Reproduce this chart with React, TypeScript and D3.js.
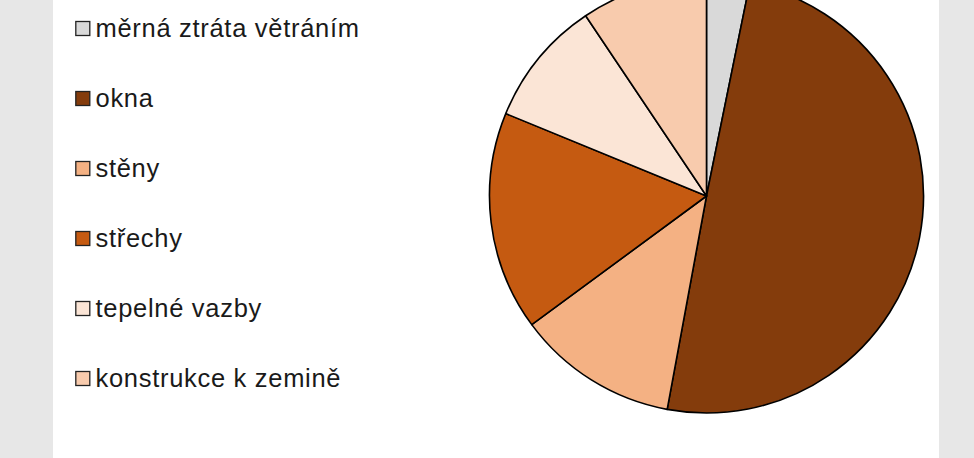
import React from "react";
import * as d3 from "d3";

const categories = [
  "měrná ztráta větráním",
  "okna",
  "stěny",
  "střechy",
  "tepelné vazby",
  "konstrukce k zemině",
];
const values = [3.2, 49.7, 12.0, 16.3, 9.4, 9.4];
const colors = ["#d9d9d9", "#843c0c", "#f4b183", "#c55a11", "#fbe5d6", "#f8cbad"];

const W = 974;
const H = 458;

export default function App() {
  const cx = 706.5;
  const cy = 196;
  const r = 217;
  const pie = d3.pie<number>().sort(null).value((d) => d)(values);
  const arc = d3.arc<d3.PieArcDatum<number>>().innerRadius(0).outerRadius(r);
  const legendY = d3.scalePoint<number>().domain(d3.range(categories.length)).range([28.5, 378.5]);

  return (
    <div style={{ position: "absolute", left: 0, top: 0 }}>
      <svg width={W} height={H} style={{ display: "block" }}>
        <rect x={0} y={0} width={W} height={H} fill="#e7e7e7" />
        <rect x={53} y={0} width={886} height={H} fill="#ffffff" />
        <g transform={`translate(${cx},${cy})`}>
          {pie.map((d, i) => (
            <path
              key={i}
              d={arc(d) || ""}
              fill={colors[i]}
              stroke="#000"
              strokeWidth={1.6}
              strokeLinejoin="round"
            />
          ))}
        </g>
        <g>
          {categories.map((c, i) => {
            const y = legendY(i)!;
            return (
              <g key={c}>
                <rect
                  x={75.8}
                  y={y - 7}
                  width={14}
                  height={14}
                  fill={colors[i]}
                  stroke="#222"
                  strokeWidth={1.3}
                />
                <text
                  x={95.5}
                  y={y}
                  dy="0.35em"
                  fontFamily="Liberation Sans, Arial, sans-serif"
                  fontSize={25.5}
                  letterSpacing={0.7}
                  fill="#1a1a1a"
                >
                  {c}
                </text>
              </g>
            );
          })}
        </g>
      </svg>
    </div>
  );
}
